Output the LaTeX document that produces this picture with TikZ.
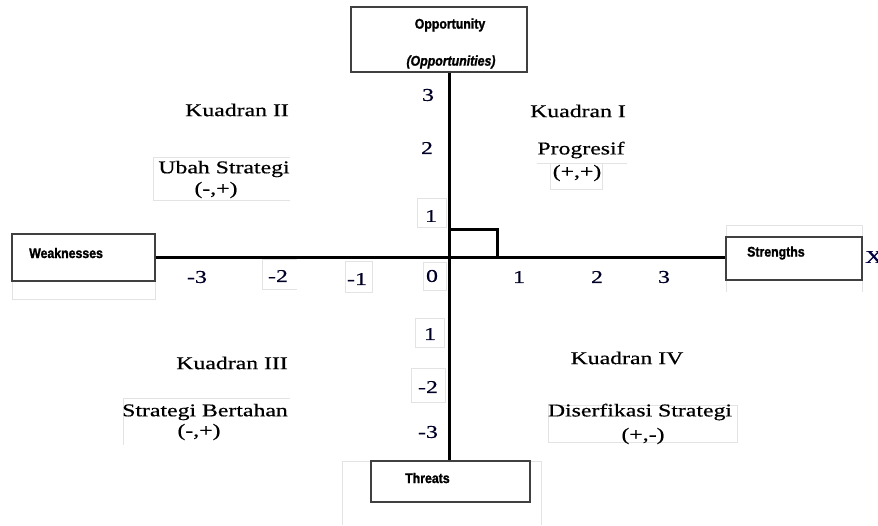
\documentclass[tikz,border=0pt]{standalone}
\usepackage{fontspec}
\setmainfont{Liberation Serif}
\newfontfamily\qf[FakeStretch=1.32,FakeBold=0.6]{Liberation Serif}
\newfontfamily\boxfont[FakeStretch=0.88,FakeBold=1.4]{Liberation Sans}
\begin{document}
\begin{tikzpicture}[x=1pt,y=-1pt,
  qtext/.style={font=\qf\fontsize{18}{20}\selectfont, inner sep=0pt, text=black},
  ticklbl/.style={font=\qf\fontsize{18}{20}\selectfont, inner sep=0pt, text=black!85!blue},
  boxlbl/.style={font=\boxfont\bfseries\fontsize{14}{16}\selectfont, inner sep=0pt},
  frame/.style={draw=black!75, line width=1.3pt, fill=white, rectangle, inner sep=0pt},
  faint/.style={draw=gray!22, line width=0.8pt},
  axis/.style={line width=3pt},
]
\useasboundingbox (0,0) rectangle (878,525);

% faint frames
\draw[faint] (417,198) rectangle (446,227);
\draw[faint] (423,262) rectangle (446,290);
\draw[faint] (262,259) -- (297,259) (262,259) -- (262,289) -- (297,289);
\draw[faint] (345,261) rectangle (372,292);
\draw[faint] (415,318) rectangle (444,347);
\draw[faint] (411,368) rectangle (445,402);
\draw[faint] (153,157) -- (290,157) (153,157) -- (153,200) -- (290,200);
\draw[faint] (537,163) -- (627,163) (550,163) -- (550,189) -- (602,189) -- (602,163);
\draw[faint] (123,398) -- (290,398) (123,398) -- (123,445);
\draw[faint] (548,405) rectangle (737,442);
\draw[faint] (12,281) -- (12,299) -- (155,299) -- (155,281);
\draw[faint] (726,225) -- (726,292) (862,225) -- (862,292) (726,237) -- (726,225) -- (862,225);
\draw[faint] (342,525) -- (342,461) -- (541,461) -- (541,525);

% boxes
\node[frame, minimum width=176pt, minimum height=65pt] (opp) at (439,39.5) {};
\node[frame, minimum width=143pt, minimum height=47pt] (weak) at (83.5,257.5) {};
\node[frame, minimum width=136pt, minimum height=43pt] (str) at (794,258.5) {};
\node[frame, minimum width=159pt, minimum height=41pt] (thr) at (450.5,481.5) {};

\coordinate (o) at (449,257);

% axes
\draw[axis] (opp.south -| o) -- (thr.north -| o);
\draw[axis] (weak.east |- o) -- (str.west |- o);
\draw[axis] (o) ++(0,-28) -- ++(48,0) -- ++(0,28);

% box labels
\node[boxlbl] (toppl) at (450,25) {Opportunity};
\node[boxlbl, font=\boxfont\bfseries\itshape\fontsize{14}{16}\selectfont] (topp2) at (451,62) {(Opportunities)};
\node[boxlbl, anchor=west] (tweak) at (29,253) {Weaknesses};
\node[boxlbl, anchor=west] (tstr) at (747,253) {Strengths};
\node[boxlbl, anchor=west] (tthr) at (405,478) {Threats};
\node[qtext, anchor=west, text=black!75!blue] (xl) at (865,257) {X};

% ticks
\node[ticklbl] (xm3) at (197,277) {-3};
\node[ticklbl] (xm2) at (278,276) {-2};
\node[ticklbl] (xm1) at (357,279) {-1};
\node[ticklbl] (x0) at (432,276) {0};
\node[ticklbl] (x1) at (519,277) {1};
\node[ticklbl] (x2) at (597,277) {2};
\node[ticklbl] (x3) at (664,277) {3};
\node[ticklbl] (y3) at (428,95) {3};
\node[ticklbl] (y2) at (427,148) {2};
\node[ticklbl] (y1) at (431,216) {1};
\node[ticklbl] (ym1) at (430,334) {1};
\node[ticklbl] (ym2) at (428,387) {-2};
\node[ticklbl] (ym3) at (428,432) {-3};

% quadrants
\node[qtext, anchor=east] (q2) at (289,110) {Kuadran II};
\node[qtext] (q2a) at (224,169) {Ubah Strategi};
\node[qtext] (q2b) at (216,190) {(-,+)};
\node[qtext] (q1) at (578,111) {Kuadran I};
\node[qtext] (q1a) at (581,150) {Progresif};
\node[qtext] (q1b) at (577,173) {(+,+)};
\node[qtext, anchor=east] (q3) at (288,363) {Kuadran III};
\node[qtext] (q3a) at (205,412) {Strategi Bertahan};
\node[qtext] (q3b) at (199,432) {(-,+)};
\node[qtext] (q4) at (627,358) {Kuadran IV};
\node[qtext] (q4a) at (640,412) {Diserfikasi Strategi};
\node[qtext] (q4b) at (643,436) {(+,-)};
\end{tikzpicture}
\end{document}
